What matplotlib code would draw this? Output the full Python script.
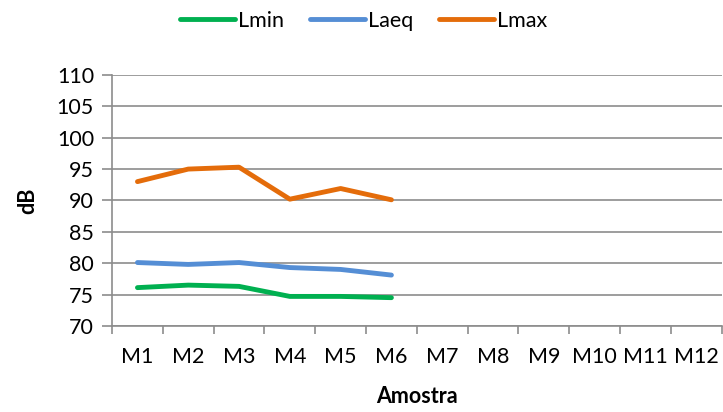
import matplotlib
matplotlib.use("Agg")
import matplotlib.pyplot as plt
import numpy as np

# ----------------------
# Data
# ----------------------
categories = ["M1", "M2", "M3", "M4", "M5", "M6", "M7", "M8", "M9", "M10", "M11", "M12"]
lmin = [76.1, 76.5, 76.3, 74.7, 74.7, 74.5]
laeq = [80.1, 79.8, 80.1, 79.3, 79.0, 78.1]
lmax = [93.0, 95.0, 95.3, 90.2, 91.9, 90.1]
y_ticks = [70, 75, 80, 85, 90, 95, 100, 105, 110]

plt.rcParams['font.family'] = ['Lato', 'DejaVu Sans']
FS = 15.5

fig = plt.figure(figsize=(7.23, 4.12), dpi=100)
ax = fig.add_axes([0.155, 0.209, 0.843, 0.609])

x_all = np.arange(len(categories))
ax.plot(x_all[:len(lmin)], lmin, color='#00B050', lw=3.5, solid_capstyle='round', label='Lmin')
ax.plot(x_all[:len(laeq)], laeq, color='#558ED5', lw=3.5, solid_capstyle='round', label='Laeq')
ax.plot(x_all[:len(lmax)], lmax, color='#E46C0A', lw=3.5, solid_capstyle='round', label='Lmax')

ax.set_xlim(-0.5, len(categories) - 0.5)
ax.set_ylim(y_ticks[0], y_ticks[-1])
ax.set_yticks(y_ticks)
ax.grid(axis='y', color='#8c8c8c', lw=1.2)
ax.set_axisbelow(True)

# category ticks sit on the boundaries, labels in the middle
ax.set_xticks(np.arange(-0.5, len(categories) + 0.5, 1))
ax.set_xticklabels([])
ax.set_xticks(x_all, minor=True)
ax.set_xticklabels(categories, minor=True)
ax.tick_params(axis='x', which='major', length=6, width=1.2, color='#8c8c8c')
ax.tick_params(axis='x', which='minor', length=0, pad=15, labelsize=FS)
ax.tick_params(axis='y', length=7, width=1.2, color='#8c8c8c', labelsize=FS, pad=6)

for s in ['top', 'right']:
    ax.spines[s].set_visible(False)
for s in ['left', 'bottom']:
    ax.spines[s].set_color('#8c8c8c')
    ax.spines[s].set_linewidth(1.2)

ax.set_ylabel("dB", fontsize=FS, fontweight='bold', labelpad=13)
ax.set_xlabel("Amostra", fontsize=FS, fontweight='bold', labelpad=14)

ax.legend(loc='center', bbox_to_anchor=(0.503, 0.95), bbox_transform=fig.transFigure,
          ncol=3, frameon=False, fontsize=FS, handlelength=2.55, handletextpad=0.15,
          columnspacing=1.2)

fig.savefig("out.png", dpi=100)
